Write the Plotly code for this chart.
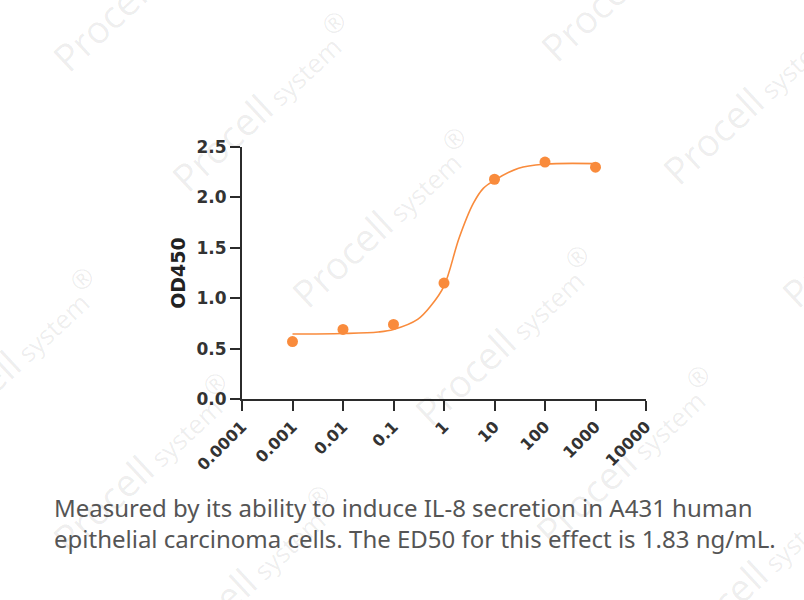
import plotly.graph_objects as go

# ---- data ----
conc = [0.001, 0.01, 0.1, 1, 10, 100, 1000]
od450 = [0.57, 0.69, 0.74, 1.15, 2.18, 2.35, 2.30]

# fitted curve as drawn in the reference
fit_x = [0.001, 0.01, 0.05, 0.1, 0.3, 0.56, 1, 2, 3.8, 6, 10, 30, 100, 1000]
fit_y = [0.645, 0.65, 0.665, 0.69, 0.79, 0.93, 1.12, 1.60, 1.94, 2.09, 2.17, 2.29, 2.33, 2.335]

x_tickvals = [0.0001, 0.001, 0.01, 0.1, 1, 10, 100, 1000, 10000]
x_ticktext = ["0.0001", "0.001", "0.01", "0.1", "1", "10", "100", "1000", "10000"]
y_tickvals = [0.0, 0.5, 1.0, 1.5, 2.0, 2.5]

caption_lines = ["Measured by its ability to induce IL-8 secretion in A431 human",
                 "epithelial carcinoma cells. The ED50 for this effect is 1.83 ng/mL."]

ORANGE = "#F98B3C"
AXIS = "#2b2b2b"

W, H = 804, 600
L, R, T, B = 242, 158, 147, 201
PW, PH = W - L - R, H - T - B


def px2paper(px, py):
    return (px - L) / PW, (H - B - py) / PH


fig = go.Figure()
fig.add_trace(go.Scatter(
    x=fit_x, y=fit_y, mode="lines",
    line=dict(color=ORANGE, width=1.6, shape="spline", smoothing=1.0),
    hoverinfo="skip", showlegend=False))
fig.add_trace(go.Scatter(
    x=conc, y=od450, mode="markers",
    marker=dict(color=ORANGE, size=11, line=dict(width=0)),
    showlegend=False))

# watermarks (centres in pixels)
wm_centres = [(262, 102), (382, 218), (505, 336), (143, 463), (626, 456),
              (753, 95), (143, -18), (631, -28), (10, 358), (246, 576),
              (757, 568), (872, 218)]
annotations = []
for cx, cy in wm_centres:
    ax_, ay_ = px2paper(cx, cy)
    annotations.append(dict(
        x=ax_, y=ay_, xref="paper", yref="paper", showarrow=False,
        xanchor="center", yanchor="middle", textangle=-43,
        text="Procell<span style='font-size:26px'> system</span><sup style='font-size:12px'>®</sup>",
        font=dict(family="Open Sans", size=38, color="rgba(0,0,0,0.075)")))

cx_, cy_ = px2paper(52, 522.5)
annotations.append(dict(
    x=cx_, y=cy_, xref="paper", yref="paper", showarrow=False,
    xanchor="left", yanchor="middle", align="left",
    text="<br>".join(caption_lines),
    font=dict(family="Noto Sans", size=24, color="#555555")))

fig.update_layout(
    width=W, height=H,
    margin=dict(l=L, r=R, t=T, b=B),
    paper_bgcolor="white", plot_bgcolor="white",
    annotations=annotations,
    xaxis=dict(
        type="log", range=[-4, 4],
        tickvals=x_tickvals, ticktext=x_ticktext, tickangle=-45,
        showgrid=False, zeroline=False,
        showline=True, linecolor=AXIS, linewidth=2,
        ticks="outside", ticklen=10, tickwidth=2, tickcolor=AXIS,
        tickfont=dict(family="DejaVu Sans", size=16, color="#333333", weight="bold"),
    ),
    yaxis=dict(
        range=[0, 2.5], tickvals=y_tickvals, tickformat=".1f",
        showgrid=False, zeroline=False,
        showline=True, linecolor=AXIS, linewidth=2,
        ticks="outside", ticklen=10, tickwidth=2, tickcolor=AXIS,
        tickfont=dict(family="DejaVu Sans", size=17, color="#333333", weight="bold"),
        title=dict(text="OD450", standoff=6,
                   font=dict(family="DejaVu Sans", size=19, color="#222222", weight="bold")),
    ),
)

fig.write_html("out.html")
